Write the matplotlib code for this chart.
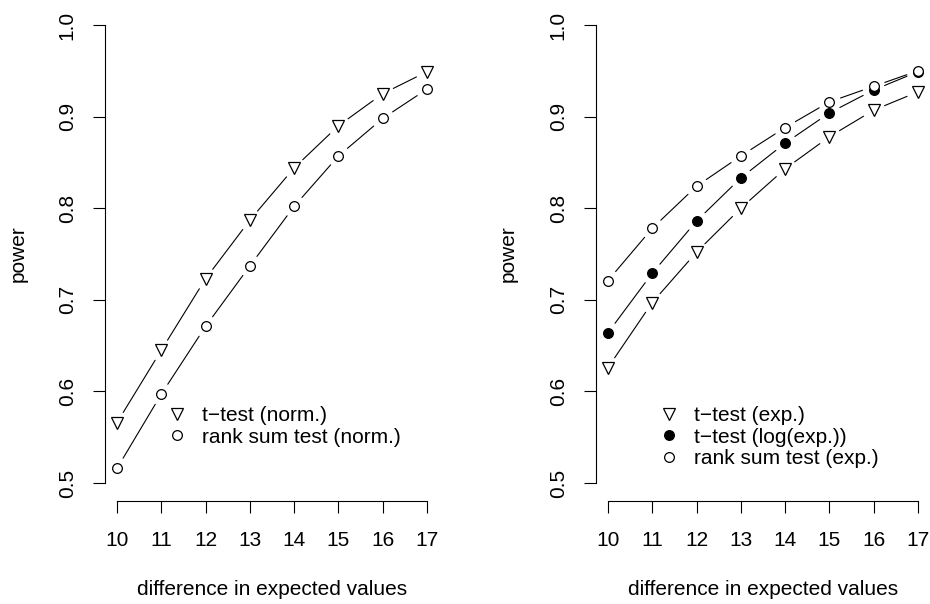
import matplotlib
matplotlib.use('Agg')
import matplotlib.pyplot as plt

plt.rcParams['font.family'] = ['Liberation Sans', 'DejaVu Sans']

diff = [10, 11, 12, 13, 14, 15, 16, 17]

# left panel: normal data
t_norm = [0.566, 0.645, 0.723, 0.787, 0.844, 0.890, 0.925, 0.949]
rank_norm = [0.516, 0.597, 0.671, 0.737, 0.802, 0.857, 0.898, 0.930]

# right panel: exponential data
t_exp = [0.626, 0.697, 0.752, 0.800, 0.843, 0.878, 0.907, 0.927]
t_logexp = [0.664, 0.729, 0.786, 0.833, 0.871, 0.904, 0.929, 0.949]
rank_exp = [0.721, 0.778, 0.824, 0.857, 0.888, 0.916, 0.933, 0.950]

yticks = [0.5, 0.6, 0.7, 0.8, 0.9, 1.0]
FS = 15


def series(ax, x, y, marker, fill, ms, label):
    # R type="b": points joined by lines that stop short of the points
    for i in range(len(x) - 1):
        ax.annotate('', xy=(x[i + 1], y[i + 1]), xytext=(x[i], y[i]),
                    arrowprops=dict(arrowstyle='-', color='black', lw=0.8,
                                    shrinkA=8.5, shrinkB=8.5))
    ax.plot(x, y, linestyle='none', marker=marker, markersize=ms,
            markerfacecolor=fill, markeredgecolor='black',
            markeredgewidth=0.9, label=label)


def style(ax):
    ax.set_xlim(9.72, 17.28)
    ax.set_ylim(0.48, 1.02)
    for s in ['top', 'right']:
        ax.spines[s].set_visible(False)
    ax.spines['left'].set_bounds(0.5, 1.0)
    ax.spines['bottom'].set_bounds(10, 17)
    ax.spines['left'].set_linewidth(0.8)
    ax.spines['bottom'].set_linewidth(0.8)
    ax.set_xticks(diff)
    ax.set_yticks(yticks)
    ax.set_yticklabels([f'{v:.1f}' for v in yticks], rotation=90, va='center')
    ax.tick_params(axis='x', direction='out', length=8.6, width=0.8, pad=12.8, labelsize=FS)
    ax.tick_params(axis='y', direction='out', length=8.6, width=0.8, pad=11.5, labelsize=FS)
    ax.set_xlabel('difference in expected values', fontsize=FS)
    ax.set_ylabel('power', fontsize=FS)
    ax.xaxis.set_label_coords(0.5, -0.179)
    ax.xaxis.label.set_va('center')
    ax.yaxis.label.set_va('center')


def legend(ax, x0, y0):
    ax.legend(loc='upper left', bbox_to_anchor=(x0, y0), frameon=False,
              fontsize=FS, borderpad=0, handletextpad=0.7, labelspacing=0.13,
              handlelength=1.0, borderaxespad=0)


fig = plt.figure(figsize=(9.3, 6.04), dpi=100)
ax1 = fig.add_axes([0.1125, 0.170, 0.360, 0.819])
ax2 = fig.add_axes([0.6404, 0.170, 0.360, 0.819])

series(ax1, diff, t_norm, 'v', 'white', 8.5, 't\u2212test (norm.)')
series(ax1, diff, rank_norm, 'o', 'white', 7, 'rank sum test (norm.)')
style(ax1)
ax1.yaxis.set_label_coords(-0.259, 0.5)
legend(ax1, 0.185, 0.193)

series(ax2, diff, t_exp, 'v', 'white', 8.5, 't\u2212test (exp.)')
series(ax2, diff, t_logexp, 'o', 'black', 7, 't\u2212test (log(exp.))')
series(ax2, diff, rank_exp, 'o', 'white', 7, 'rank sum test (exp.)')
style(ax2)
ax2.yaxis.set_label_coords(-0.262, 0.5)
legend(ax2, 0.188, 0.193)

fig.savefig('out.png', dpi=100)
